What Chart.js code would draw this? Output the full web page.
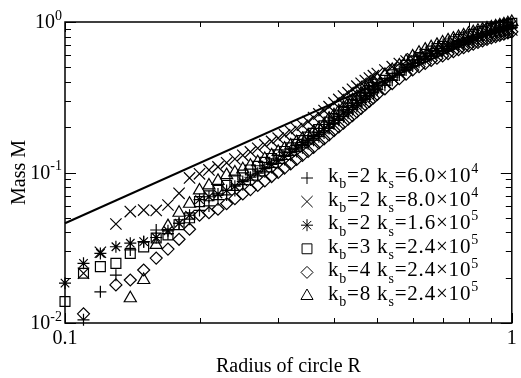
<!DOCTYPE html>
<html>
<head>
<meta charset="utf-8">
<script src="https://cdn.jsdelivr.net/npm/chart.js@4.4.1/dist/chart.umd.min.js"></script>
<style>
  html, body { margin: 0; padding: 0; background: #fff; }
  #wrap { width: 521px; height: 378px; }
</style>
</head>
<body>
<div id="wrap"><canvas id="chart" width="521" height="378"></canvas></div>
<script>
// radius of the circle, shared by all runs
const radius = [0.10, 0.11, 0.12, 0.13, 0.14, 0.15, 0.16, 0.17, 0.18, 0.19,
  0.20, 0.21, 0.22, 0.23, 0.24, 0.25, 0.26, 0.27, 0.28, 0.29,
  0.30, 0.31, 0.32, 0.33, 0.34, 0.35, 0.36, 0.37, 0.38, 0.39,
  0.40, 0.41, 0.42, 0.43, 0.44, 0.45, 0.46, 0.47, 0.48, 0.49, 0.50,
  0.52, 0.54, 0.56, 0.58, 0.60, 0.62, 0.64, 0.66, 0.68, 0.70, 0.72, 0.74, 0.76, 0.78,
  0.80, 0.82, 0.84, 0.86, 0.88, 0.90, 0.92, 0.94, 0.96, 0.98, 1.00];

// mass M for each run (null = no point)
const massPlus = [null, .0105, .0161, .0208, .0306, .0347, .0415, .0392, .046, .049,
  .056, .060, .066, .071, .076, .083, .089, .095, .101, .108,
  .115, .122, .130, .138, .146, .155, .164, .173, .183, .196,
  .210, .222, .235, .248, .262, .276, .291, .306, .322, .338, .355,
  .380, .410, .445, .480, .510, .540, .570, .595, .620, .645, .670, .695, .715, .735,
  .755, .775, .795, .815, .830, .845, .860, .875, .890, .905, .920];
const massCross = [null, .0214, .0295, .0455, .055, .0563, .056, .0608, .0727, .092,
  .098, .104, .109, .116, .123, .130, .137, .145, .153, .161,
  .169, .178, .187, .196, .206, .218, .232, .245, .258, .274,
  .290, .306, .322, .339, .357, .375, .392, .408, .424, .440, .455,
  .480, .505, .530, .550, .570, .590, .608, .625, .642, .658, .674, .690, .705, .720,
  .735, .750, .765, .780, .795, .810, .825, .840, .855, .870, .885];
const massStar = [.0184, .0249, .029, .0321, .0339, .0347, .037, .041, .046, .052,
  .066, .069, .072, .076, .081, .087, .093, .099, .106, .113,
  .120, .128, .136, .145, .154, .163, .173, .184, .196, .209,
  .222, .235, .249, .263, .278, .293, .309, .325, .342, .359, .377,
  .400, .430, .465, .500, .530, .560, .590, .615, .640, .665, .690, .715, .740, .760,
  .780, .800, .820, .840, .860, .880, .895, .910, .925, .940, .955];
const massSquare = [.0139, .0214, .0237, .0249, .029, .032, .0367, .0385, .045, .050,
  .064, .070, .076, .082, .089, .096, .104, .110, .117, .124,
  .131, .138, .146, .154, .163, .172, .182, .193, .204, .216,
  .228, .241, .255, .269, .284, .300, .316, .333, .350, .368, .386,
  .410, .445, .480, .515, .550, .580, .610, .640, .665, .690, .715, .740, .765, .785,
  .805, .825, .845, .865, .885, .905, .920, .935, .950, .965, .980];
const massDiamond = [null, .0115, null, .0179, .0193, .0225, .027, .031, .036, .042,
  .052, .054, .057, .062, .067, .072, .077, .082, .088, .094,
  .100, .107, .114, .122, .130, .138, .147, .157, .167, .178,
  .190, .201, .213, .226, .239, .253, .267, .282, .297, .313, .330,
  .360, .390, .420, .450, .480, .505, .530, .555, .575, .595, .615, .635, .655, .675,
  .695, .713, .731, .749, .767, .785, .800, .815, .830, .845, .860];
const massTriangle = [null, null, null, null, .0146, .0193, .033, .044, .054, .062,
  .076, .082, .088, .096, .100, .105, .111, .117, .123, .130,
  .137, .144, .151, .159, .167, .176, .186, .196, .207, .228,
  .240, .255, .270, .286, .302, .318, .335, .355, .375, .395, .415,
  .445, .480, .515, .550, .590, .625, .655, .680, .705, .730, .755, .775, .795, .815,
  .835, .855, .875, .890, .905, .920, .935, .950, .965, .980, 1.000];

// straight reference line
const fitR = [0.1, 1];
const fitM = [0.046, 0.98];

// legend: k_b and k_s values
const legendKb = ['2', '2', '2', '3', '4', '8'];
const legendKs = ['6.0', '8.0', '1.6', '2.4', '2.4', '2.4'];
const legendExp = ['4', '4', '5', '5', '5', '5'];

// axis ticks
const xMajor = [0.1, 1];
const xMajorLabels = ['0.1', '1'];
const xMinor = [0.2, 0.3, 0.4, 0.5, 0.6, 0.7, 0.8, 0.9];
const yMajor = [0.01, 0.1, 1];
const yMajorExp = ['-2', '-1', '0'];
const yMinor = [0.02, 0.03, 0.04, 0.05, 0.06, 0.07, 0.08, 0.09, 0.2, 0.3, 0.4, 0.5, 0.6, 0.7, 0.8, 0.9];

const series = [massPlus, massCross, massStar, massSquare, massDiamond, massTriangle];
const styles = ['cross', 'crossRot', 'star', 'rect', 'rectRot', 'triangle'];
const sizes = [6, 8, 6, 7, 6, 7];
const FONT = '"Liberation Serif", "DejaVu Serif", serif';

function toPoints(xs, ys) {
  return xs.map((x, i) => ({ x, y: ys[i] })).filter(p => p.y != null);
}

// draws text pieces: [text, 'n' | 'sub' | 'sup']
function richText(ctx, parts, x, y, size, measureOnly) {
  parts.forEach(([t, k]) => {
    const s = k === 'n' ? size : Math.round(size * 0.68);
    ctx.font = `${s}px ${FONT}`;
    const dy = k === 'sub' ? size * 0.3 : k === 'sup' ? -size * 0.42 : 0;
    if (!measureOnly) ctx.fillText(t, x, y + dy);
    x += ctx.measureText(t).width;
  });
  return x;
}

const frame = {
  id: 'frame',
  afterDatasetsDraw(chart) {
    const { ctx, chartArea: a, scales: { x, y } } = chart;
    ctx.save();
    ctx.strokeStyle = '#000';
    ctx.fillStyle = '#000';
    ctx.lineWidth = 1.5;
    ctx.strokeRect(a.left, a.top, a.right - a.left, a.bottom - a.top);

    ctx.lineWidth = 1;
    ctx.beginPath();
    const xt = (v, len) => {
      const px = Math.round(x.getPixelForValue(v)) + 0.5;
      ctx.moveTo(px, a.bottom); ctx.lineTo(px, a.bottom - len);
      ctx.moveTo(px, a.top); ctx.lineTo(px, a.top + len);
    };
    const yt = (v, len) => {
      const py = Math.round(y.getPixelForValue(v)) + 0.5;
      ctx.moveTo(a.left, py); ctx.lineTo(a.left + len, py);
      ctx.moveTo(a.right, py); ctx.lineTo(a.right - len, py);
    };
    xMinor.forEach(v => xt(v, 5));
    xMajor.forEach(v => xt(v, 10));
    yMinor.forEach(v => yt(v, 6));
    yMajor.forEach(v => yt(v, 11));
    ctx.stroke();

    // tick labels
    ctx.textBaseline = 'alphabetic';
    ctx.textAlign = 'center';
    ctx.font = `20px ${FONT}`;
    xMajor.forEach((v, i) => ctx.fillText(xMajorLabels[i], x.getPixelForValue(v), a.bottom + 21));
    ctx.textAlign = 'left';
    yMajor.forEach((v, i) => {
      const parts = [['10', 'n'], [yMajorExp[i], 'sup']];
      const w = richText(ctx, parts, 0, 0, 20, true);
      richText(ctx, parts, a.left - 3 - w, y.getPixelForValue(v) + 6, 20);
    });

    // axis titles
    ctx.font = `20px ${FONT}`;
    ctx.textAlign = 'center';
    ctx.fillText('Radius of circle R', (a.left + a.right) / 2, 372);
    ctx.save();
    ctx.translate(25, (a.top + a.bottom) / 2);
    ctx.rotate(-Math.PI / 2);
    ctx.fillText('Mass M', 0, 0);
    ctx.restore();

    // legend
    ctx.textAlign = 'left';
    chart.data.datasets.slice(1).forEach((ds, i) => {
      const cy = a.top + 156 + i * 23.6;
      const mx = a.left + 242;
      ctx.fillStyle = 'rgba(0,0,0,0)';
      ctx.lineWidth = 1;
      Chart.helpers.drawPoint(ctx, { pointStyle: ds.pointStyle, radius: ds.pointRadius, rotation: 0, borderWidth: 1 }, mx, cy);
      ctx.fillStyle = '#000';
      ctx.letterSpacing = '0.8px';
      richText(ctx, [['k', 'n'], ['b', 'sub'], ['=' + legendKb[i] + ' k', 'n'], ['s', 'sub'],
        ['=' + legendKs[i] + '\u00d710', 'n'], [legendExp[i], 'sup']], a.left + 263, cy + 4, 21);
      ctx.letterSpacing = '0px';
    });
    ctx.restore();
  }
};

const datasets = [{
  data: toPoints(fitR, fitM),
  showLine: true,
  borderColor: '#000',
  borderWidth: 2,
  pointRadius: 0,
  clip: false
}];
series.forEach((m, i) => datasets.push({
  data: toPoints(radius, m),
  pointStyle: styles[i],
  pointRadius: sizes[i],
  pointBorderWidth: 1.2,
  borderColor: '#000',
  backgroundColor: 'rgba(0,0,0,0)',
  showLine: false,
  clip: false
}));

new Chart(document.getElementById('chart'), {
  type: 'scatter',
  data: { datasets },
  options: {
    responsive: false,
    animation: false,
    layout: { padding: { left: 65, right: 3, top: 22, bottom: 55 } },
    scales: {
      x: { type: 'logarithmic', min: 0.1, max: 1, display: false },
      y: { type: 'logarithmic', min: 0.01, max: 1, display: false }
    },
    plugins: { legend: { display: false }, tooltip: { enabled: false } }
  },
  plugins: [frame]
});
</script>
</body>
</html>
